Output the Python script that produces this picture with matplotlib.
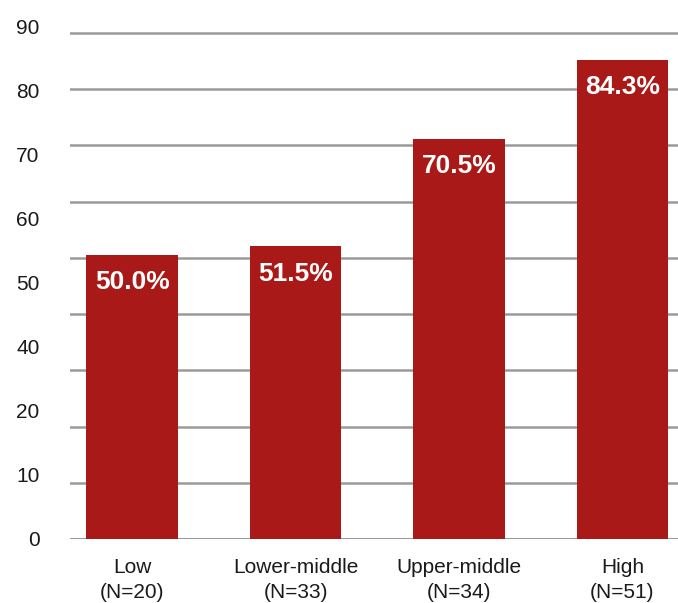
import matplotlib
matplotlib.use("Agg")
import matplotlib.pyplot as plt
import numpy as np

# Share of respondents by income group
categories = ["Low\n(N=20)", "Lower-middle\n(N=33)", "Upper-middle\n(N=34)", "High\n(N=51)"]
values = [50.0, 51.5, 70.5, 84.3]
value_labels = ["50.0%", "51.5%", "70.5%", "84.3%"]
y_tick_labels = ["0", "10", "20", "40", "50", "60", "70", "80", "90"]

bar_color = "#A91917"
grid_color = "#9A9A9A"
text_color = "#1A1A1A"

plt.rcParams["font.family"] = ["Liberation Sans", "DejaVu Sans"]

fig = plt.figure(figsize=(6.78, 6.03), dpi=100)
ax = fig.add_axes([70 / 678, (603 - 539) / 603, 1 - 70 / 678, 539 / 603])

x = np.arange(len(categories))
ax.set_xlim(-0.38, 3.34)
ax.set_ylim(0, 94.9)

# horizontal gridlines behind the bars
grid_step = 9.9
for i in range(10):
    ax.axhline(i * grid_step, color=grid_color, lw=2.2 if i == 0 else 1.8, zorder=1)

ax.bar(x, values, width=0.56, color=bar_color, zorder=2)

for xi, v, lab in zip(x, values, value_labels):
    ax.annotate(lab, (xi, v), xytext=(0, -19.5), textcoords="offset points",
                ha="center", va="center", color="white", fontsize=19,
                fontweight="bold", zorder=3)

# y labels spread evenly along the axis
label_pos = np.linspace(0, 90.3, len(y_tick_labels))
ax.set_yticks(label_pos)
ax.set_yticklabels(y_tick_labels, fontsize=15, color=text_color)
ax.tick_params(axis="y", length=0, pad=22)

ax.set_xticks(x)
ax.set_xticklabels(categories, fontsize=15, color=text_color, linespacing=1.4)
ax.tick_params(axis="x", length=0, pad=14)

for s in ax.spines.values():
    s.set_visible(False)

fig.savefig("out.png", dpi=100)
